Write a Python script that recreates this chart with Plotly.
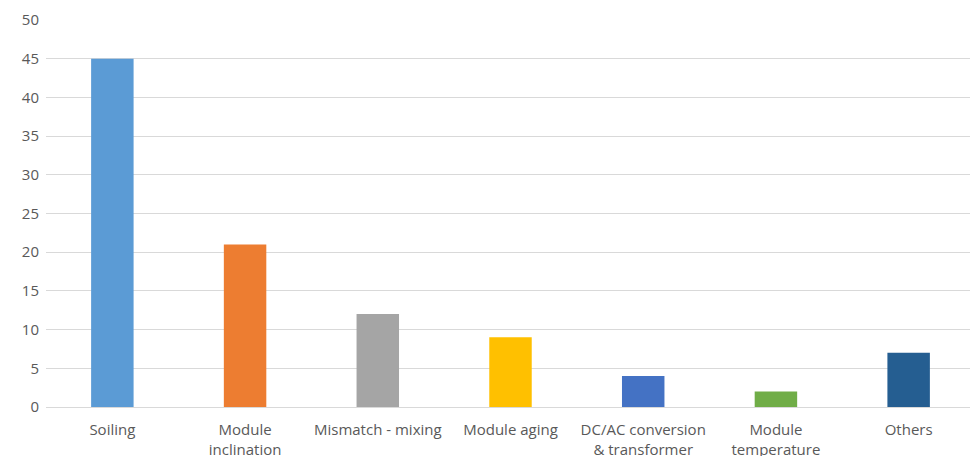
import plotly.graph_objects as go

categories = ["Soiling", "Module<br>inclination", "Mismatch - mixing", "Module aging",
              "DC/AC conversion<br>& transformer", "Module<br>temperature", "Others"]
values = [45, 21, 12, 9, 4, 2, 7]
colors = ["#5B9BD5", "#ED7D31", "#A5A5A5", "#FFC000", "#4472C4", "#70AD47", "#255E91"]
y_ticks = [0, 5, 10, 15, 20, 25, 30, 35, 40, 45, 50]

fig = go.Figure(go.Bar(x=categories, y=values, marker=dict(color=colors, line=dict(width=0))))

fig.update_layout(
    width=970, height=448,
    margin=dict(l=38, r=3, t=12, b=49),
    paper_bgcolor="white", plot_bgcolor="white",
    bargap=0.68,
    showlegend=False,
    font=dict(family="Open Sans, Liberation Sans, sans-serif", size=15, color="#595959"),
)
fig.update_xaxes(showgrid=False, showline=False, ticks="", tickfont=dict(size=15, color="#595959"),
                 ticklabelstandoff=12, automargin=False)
fig.update_yaxes(range=[0, 50], tickvals=y_ticks, showgrid=True, gridcolor="#D9D9D9", gridwidth=1,
                 zeroline=True, zerolinecolor="#D9D9D9", zerolinewidth=1, showline=False,
                 ticks="", tickfont=dict(size=15, color="#595959"), ticklabelstandoff=6,
                 automargin=False)

fig.write_html("out.html")
